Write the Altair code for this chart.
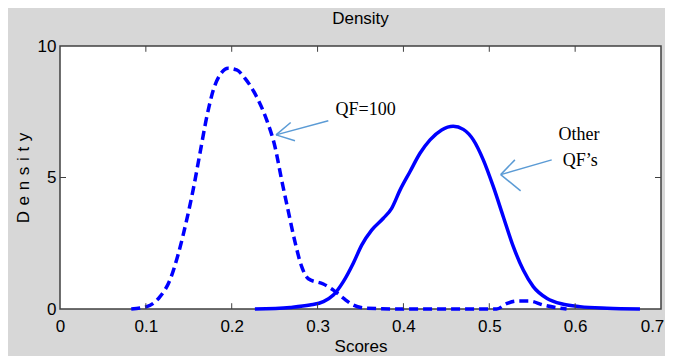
import altair as alt
import pandas as pd

# ---- data ----
qf100_x = [0.083, 0.101, 0.1165, 0.128, 0.138, 0.1475, 0.155, 0.163, 0.171, 0.1786, 0.1863,
           0.196, 0.2058, 0.2155, 0.229, 0.2407, 0.2504, 0.2582, 0.266, 0.2737, 0.2815, 0.2892,
           0.3067, 0.3184, 0.33, 0.3416, 0.357, 0.40, 0.45, 0.5085, 0.52, 0.532, 0.547, 0.563, 0.5785, 0.59]
qf100_y = [0.0, 0.09, 0.47, 1.10, 2.12, 3.38, 4.52, 5.92, 7.31, 8.33, 8.90,
           9.15, 9.09, 8.77, 8.07, 7.19, 6.17, 4.90, 3.70, 2.55, 1.61, 1.15,
           0.95, 0.72, 0.41, 0.15, 0.03, 0.0, 0.0, 0.0, 0.20, 0.30, 0.30, 0.15, 0.05, 0.0]

other_x = [0.227, 0.268, 0.291, 0.3067, 0.3184, 0.33, 0.3416, 0.3514, 0.363, 0.3766, 0.3863,
           0.396, 0.4076, 0.4193, 0.431, 0.4445, 0.458, 0.4697, 0.4814, 0.493, 0.5047, 0.5163,
           0.528, 0.5396, 0.5512, 0.5668, 0.5862, 0.6056, 0.637, 0.6755]
other_y = [0.0, 0.06, 0.15, 0.28, 0.53, 1.04, 1.74, 2.43, 3.00, 3.45, 3.83,
           4.52, 5.22, 5.92, 6.43, 6.81, 6.95, 6.83, 6.43, 5.67, 4.65, 3.51,
           2.37, 1.48, 0.85, 0.41, 0.18, 0.09, 0.03, 0.0]

x_ticks = [0.0, 0.1, 0.2, 0.3, 0.4, 0.5, 0.6, 0.7]
y_ticks = [0, 5, 10]
inner_x_ticks = [0.1, 0.2, 0.3, 0.4, 0.5, 0.6]

labels_text = ["QF=100", "Other", "QF\u2019s"]
labels_x = [0.356, 0.6045, 0.606]
labels_y = [7.57, 6.62, 5.63]

# arrows: shaft + two barbs (x, y, x2, y2)
arrow_x = [0.3125, 0.2516, 0.2516, 0.5727, 0.5133, 0.5133]
arrow_y = [7.16, 6.62, 6.62, 5.67, 5.11, 5.11]
arrow_x2 = [0.2516, 0.2687, 0.2737, 0.5133, 0.5298, 0.5365]
arrow_y2 = [6.62, 7.09, 6.40, 5.11, 5.67, 4.49]

BLUE = "#0000ff"
AX = "#404040"

xs = alt.Scale(domain=[0, 0.7], nice=False)
ys = alt.Scale(domain=[0, 10], nice=False)

df_qf = pd.DataFrame({"x": qf100_x, "y": qf100_y})
df_ot = pd.DataFrame({"x": other_x, "y": other_y})

x_axis = alt.Axis(values=x_ticks, format=".1~f", ticks=False, domain=False, grid=False,
                  labelFontSize=17, labelFont="Liberation Sans", labelColor="black",
                  labelPadding=9, labelFlush=False,
                  labelOffset=alt.ConditionalAxisNumber(
                      condition={"test": "datum.value >= 0.69", "value": -9}, value=0),
                  title="Scores", titleFontSize=17,
                  titleFont="Liberation Sans", titleFontWeight="normal", titleColor="black",
                  titlePadding=4)
y_axis = alt.Axis(values=y_ticks, format="d", ticks=False, domain=False, grid=False,
                  labelFontSize=17, labelFont="Liberation Sans", labelColor="black",
                  labelPadding=4, title="D\u2004e\u2004n\u2004s\u2004i\u2004t\u2004y",
                  titleFontSize=17, titleFont="Liberation Sans", titleFontWeight="normal",
                  titleColor="black", titlePadding=5)

dashed = alt.Chart(df_qf).mark_line(color=BLUE, strokeWidth=3.5, strokeDash=[9, 5],
                                    interpolate="monotone").encode(
    x=alt.X("x:Q", scale=xs, axis=x_axis),
    y=alt.Y("y:Q", scale=ys, axis=y_axis),
)
solid = alt.Chart(df_ot).mark_line(color=BLUE, strokeWidth=3.5, interpolate="monotone").encode(
    x=alt.X("x:Q", scale=xs), y=alt.Y("y:Q", scale=ys)
)

df_bt = pd.DataFrame({"x": inner_x_ticks, "y": 0.0, "y2": 0.22})
df_tt = pd.DataFrame({"x": inner_x_ticks, "y": 10.0, "y2": 9.78})
bot_ticks = alt.Chart(df_bt).mark_rule(color=AX, strokeWidth=1).encode(
    x=alt.X("x:Q", scale=xs), y=alt.Y("y:Q", scale=ys), y2="y2:Q")
top_ticks = alt.Chart(df_tt).mark_rule(color=AX, strokeWidth=1).encode(
    x=alt.X("x:Q", scale=xs), y=alt.Y("y:Q", scale=ys), y2="y2:Q")
df_yt = pd.DataFrame({"x": [0.0, 0.7], "x2": [0.007, 0.693], "y": [5.0, 5.0]})
side_ticks = alt.Chart(df_yt).mark_rule(color=AX, strokeWidth=1).encode(
    x=alt.X("x:Q", scale=xs), x2="x2:Q", y=alt.Y("y:Q", scale=ys))

df_ar = pd.DataFrame({"x": arrow_x, "y": arrow_y, "x2": arrow_x2, "y2": arrow_y2})
arrows = alt.Chart(df_ar).mark_rule(color="#5b9bd5", strokeWidth=1.5).encode(
    x=alt.X("x:Q", scale=xs), y=alt.Y("y:Q", scale=ys), x2="x2:Q", y2="y2:Q")

df_lab = pd.DataFrame({"t": labels_text, "x": labels_x, "y": labels_y})
texts = alt.Chart(df_lab).mark_text(font="Liberation Serif", fontSize=18, color="black",
                                    align="center", baseline="middle").encode(
    x=alt.X("x:Q", scale=xs), y=alt.Y("y:Q", scale=ys), text="t:N")

chart = alt.layer(dashed, solid, bot_ticks, top_ticks, side_ticks, arrows, texts).properties(
    width=601, height=263,
    title=alt.TitleParams("Density", fontSize=17, font="Liberation Sans", fontWeight="normal",
                          color="black", anchor="middle", offset=9),
    padding={"left": 52, "top": 38, "right": 4, "bottom": 47},
    autosize=alt.AutoSizeParams(type="none"),
    background="#d7d7d7",
).configure_view(stroke=AX, strokeWidth=1.5, fill="white")

chart.save("out.html", embed_options={"renderer": "svg", "actions": False})
